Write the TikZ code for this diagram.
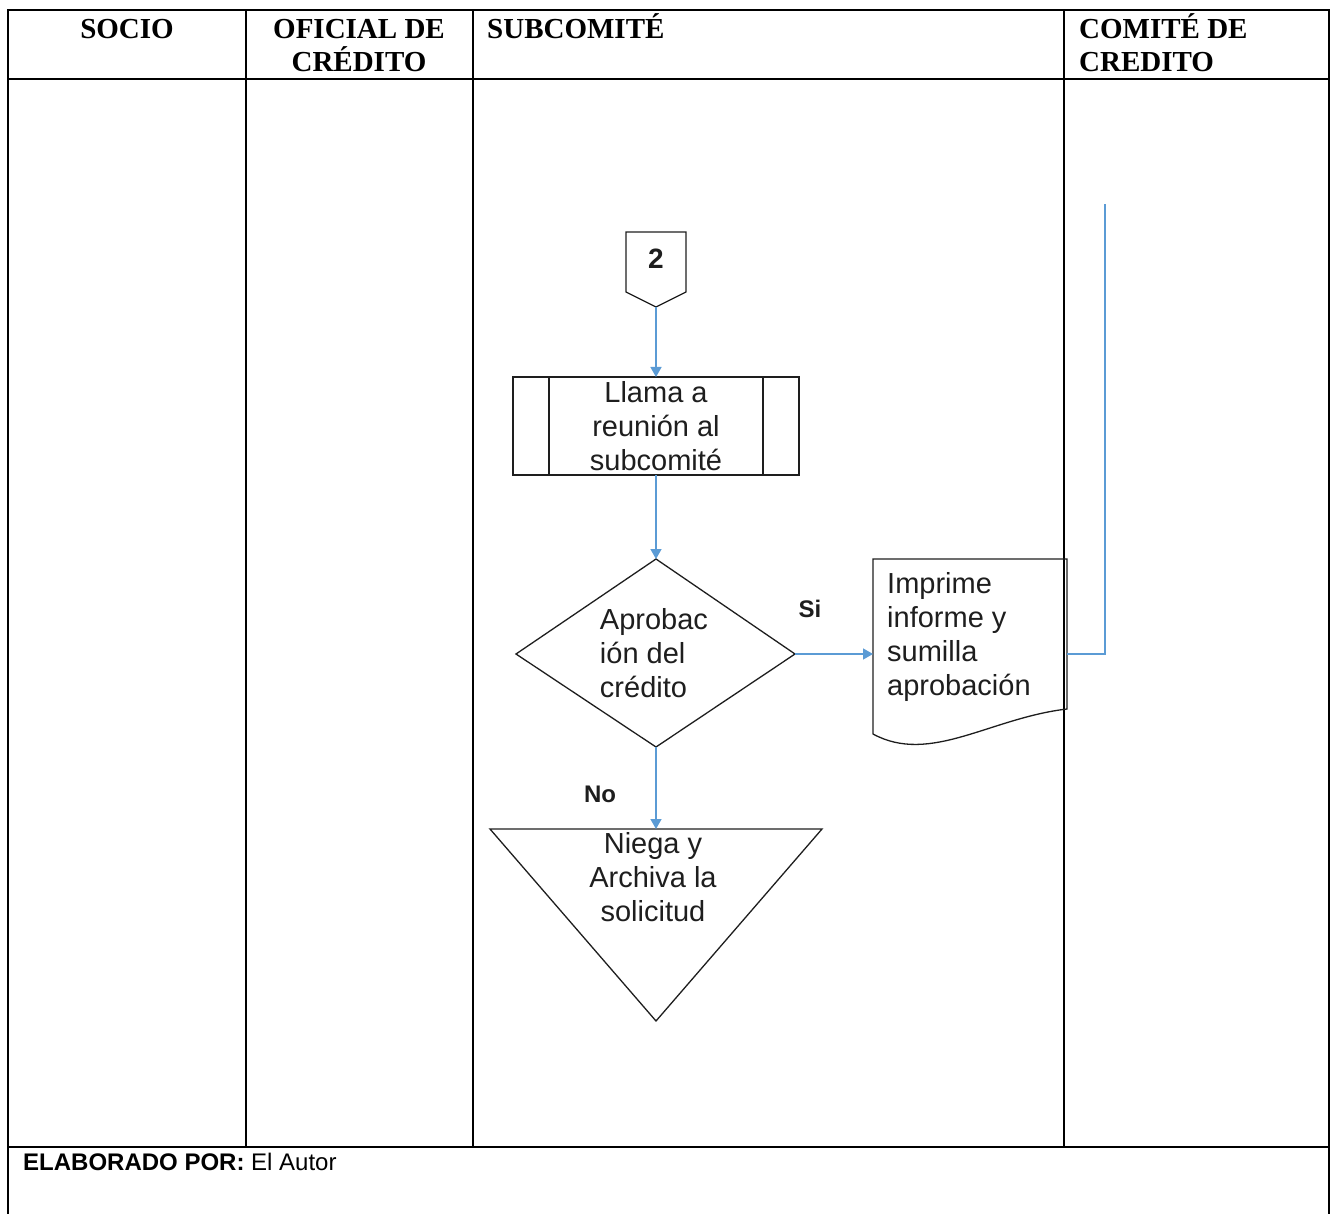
\documentclass[tikz,border=0pt]{standalone}
\usepackage{fontspec}
\setmainfont{Liberation Sans}
\newfontfamily\headfont{Liberation Serif}
\usetikzlibrary{arrows.meta,calc}
\definecolor{flowblue}{RGB}{91,155,213}
\definecolor{ink}{RGB}{30,30,30}
\begin{document}
\begin{tikzpicture}[x=1pt,y=-1pt,
  gridline/.style={line width=2.6pt, line cap=rect},
  head/.style={font=\headfont\bfseries\fontsize{29}{33}\selectfont, inner sep=0, anchor=base},
  ftext/.style={font=\fontsize{29}{34}\selectfont, inner sep=0, text=ink},
  shapeline/.style={draw=ink, line width=1.3pt},
  flow/.style={draw=flowblue, line width=1.4pt, -{Triangle[width=11pt,length=10pt]}},
  flowplain/.style={draw=flowblue, line width=1.4pt},
  tag/.style={font=\bfseries\fontsize{24}{28}\selectfont, inner sep=0, text=ink}]
\useasboundingbox (0,0) rectangle (1334,1214);

% table frame and lanes
\draw[gridline] (8,1214) -- (8,10) -- (1329,10) -- (1329,1214);
\draw[gridline] (8,79) -- (1329,79);
\draw[gridline] (8,1147) -- (1329,1147);
\foreach \x in {246,473,1064} \draw[gridline] (\x,10) -- (\x,1147);

% lane headings
\node[head] (hsocio) at (127,39) {SOCIO};
\node[head] (hofa) at (359,39) {OFICIAL DE};
\node[head] (hofb) at (359,72) {CRÉDITO};
\node[head, anchor=base west] (hsub) at (487,39) {SUBCOMITÉ};
\node[head, anchor=base west] (hcoma) at (1079,39) {COMITÉ DE};
\node[head, anchor=base west] (hcomb) at (1079,72) {CREDITO};

% off-page connector
\draw[shapeline] (626,232) -- (686,232) -- (686,292) -- (656,307) -- (626,292) -- cycle;
\node[font=\bfseries\fontsize{28}{32}\selectfont, inner sep=0, text=ink] (conn) at (656,259) {2};
\coordinate (conntip) at (656,307);

% predefined process
\node[shapeline, rectangle, minimum width=286pt, minimum height=98pt, inner sep=0,
      outer sep=0, align=center, ftext] (call) at (656,426) {Llama a\\reunión al\\subcomité};
\draw[shapeline] ($(call.north west)+(36,0)$) -- ($(call.south west)+(36,0)$);
\draw[shapeline] ($(call.north east)+(-36,0)$) -- ($(call.south east)+(-36,0)$);

% decision
\coordinate (decN) at (656,559);
\coordinate (decE) at (795,654);
\coordinate (decS) at (656,747);
\coordinate (decW) at (516,654);
\draw[shapeline] (decN) -- (decE) -- (decS) -- (decW) -- cycle;
\node[align=left, ftext] (dec) at (654,653) {Aprobac\\ión del\\crédito};

% document
\draw[shapeline] (873,559) -- (1067,559) -- (1067,709)
  .. controls (990,718) and (930,765) .. (873,734) -- cycle;
\node[ftext, align=left, anchor=west] (doc) at (887,637) {Imprime\\informe y\\sumilla\\aprobación};
\coordinate (docL) at (873,654);
\coordinate (docR) at (1067,654);
\coordinate (upEnd) at (1105,204);

% rejection (inverted triangle)
\draw[shapeline] (490,829) -- (822,829) -- (656,1021) -- cycle;
\node[ftext, align=center] (deny) at (653,877) {Niega y\\Archiva la\\solicitud};
\coordinate (denytop) at (656,829);

% connectors
\draw[flow] (conntip) -- (call.north);
\draw[flow] (call.south) -- (decN);
\draw[flow] (decE) -- (docL);
\draw[flow] (decS) -- (denytop);
\draw[flowplain] (docR) -| (upEnd);

\node[tag] (si) at (810,609) {Si};
\node[tag] (no) at (600,794) {No};

% footer
\node[anchor=base west, inner sep=0, font=\fontsize{24}{28}\selectfont, text=black] (by)
  at (23,1170) {\textbf{ELABORADO POR:} El Autor};
\end{tikzpicture}
\end{document}
